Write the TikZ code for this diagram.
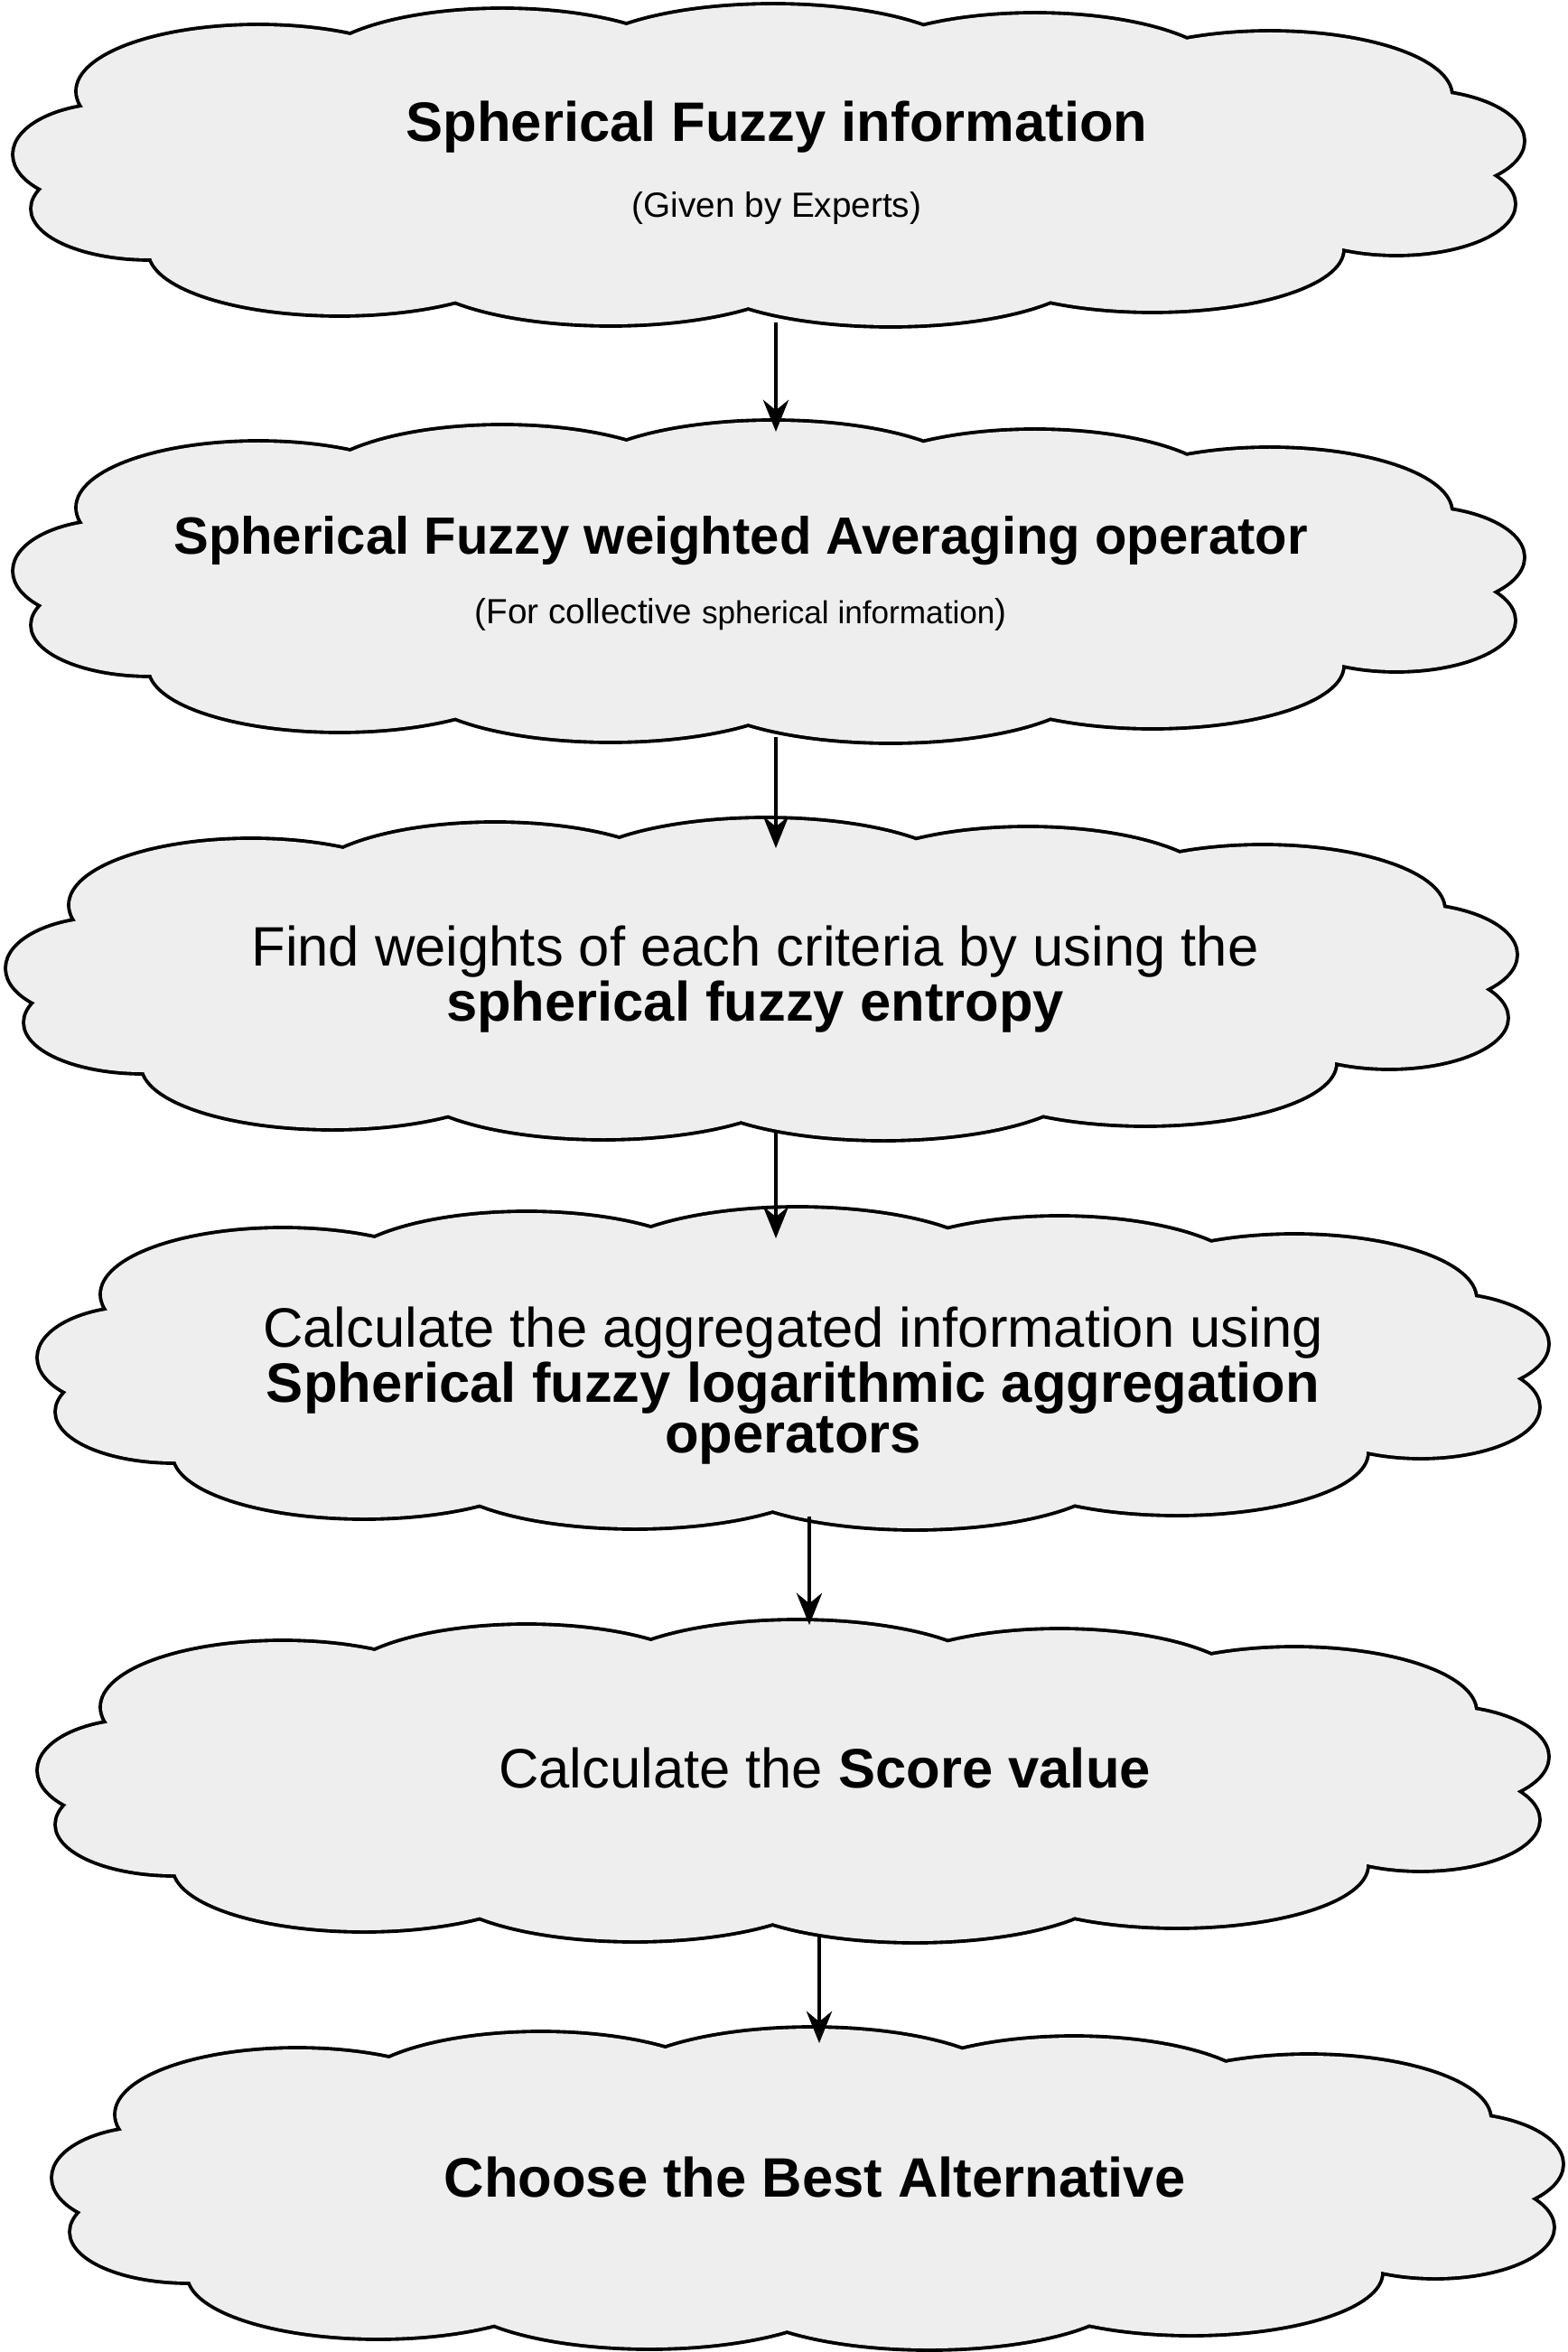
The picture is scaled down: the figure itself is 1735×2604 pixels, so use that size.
\documentclass[tikz,border=0pt]{standalone}
\usepackage{fontspec}
\setmainfont{Liberation Sans}
\usetikzlibrary{arrows.meta}
\newcommand\mycloudpath{
 (0,0) ellipse [x radius=700,y radius=125]
 (-560,-85) ellipse [x radius=200,y radius=72]
 (-290,-105) ellipse [x radius=210,y radius=70]
 (10,-112) ellipse [x radius=220,y radius=68]
 (300,-100) ellipse [x radius=210,y radius=70]
 (560,-80) ellipse [x radius=200,y radius=70]
 (-470,92) ellipse [x radius=210,y radius=70]
 (-170,105) ellipse [x radius=220,y radius=68]
 (140,108) ellipse [x radius=220,y radius=66]
 (430,90) ellipse [x radius=210,y radius=68]
 (-720,-15) ellipse [x radius=110,y radius=55]
 (-680,45) ellipse [x radius=130,y radius=55]
 (720,-30) ellipse [x radius=120,y radius=55]
 (700,40) ellipse [x radius=130,y radius=55]
}
\begin{document}
\begin{tikzpicture}[x=0.01cm,y=-0.01cm,
  tx/.style={align=center,inner sep=0pt},
  ar/.style={-{Stealth[length=10pt,width=8pt]},line width=1.4pt}]
\useasboundingbox (0,0) rectangle (1735,2604);
\foreach \cx/\cy in {846/186,846/647,838/1087,873/1518,873/1975,889/2426}{
 \begin{scope}[shift={(\cx,\cy)}]
 \draw[line width=2.2pt] \mycloudpath;
 \fill[gray!13] \mycloudpath;
 \end{scope}}
\node[tx] (t1) at (860,180) {\fontsize{17.5}{22}\selectfont\bfseries Spherical Fuzzy information\\[12pt]\fontsize{11}{13}\selectfont (Given by Experts)};
\node[tx] (t2) at (820,635) {\fontsize{16.5}{21}\selectfont\bfseries Spherical Fuzzy weighted Averaging operator\\[10pt]\fontsize{11}{13}\selectfont (For collective {\fontsize{10}{12}\selectfont spherical information})};
\node[tx] (t3) at (836,1084) {\fontsize{17.5}{26}\selectfont Find weights of each criteria by using the\\\fontsize{17.5}{26}\selectfont\bfseries spherical fuzzy entropy};
\node[tx] (t4) at (878,1534) {\fontsize{17.5}{25}\selectfont Calculate the aggregated information using\\\fontsize{17.5}{25}\selectfont\bfseries Spherical fuzzy logarithmic aggregation\\\fontsize{17.5}{25}\selectfont\bfseries operators};
\node[tx,font=\fontsize{17.5}{22}\selectfont] (t5) at (913,1957) {Calculate the \textbf{Score value}};
\node[tx,font=\fontsize{17.5}{22}\selectfont\bfseries] (t6) at (902,2410) {Choose the Best Alternative};
\coordinate (a1) at (859,357); \coordinate (b1) at (859,478);
\coordinate (a2) at (859,816); \coordinate (b2) at (859,939);
\coordinate (a3) at (859,1253); \coordinate (b3) at (859,1371);
\coordinate (a4) at (896,1679); \coordinate (b4) at (896,1799);
\coordinate (a5) at (907,2143); \coordinate (b5) at (907,2262);
\foreach \i in {1,...,5} \draw[ar] (a\i) -- (b\i);
\end{tikzpicture}
\end{document}
